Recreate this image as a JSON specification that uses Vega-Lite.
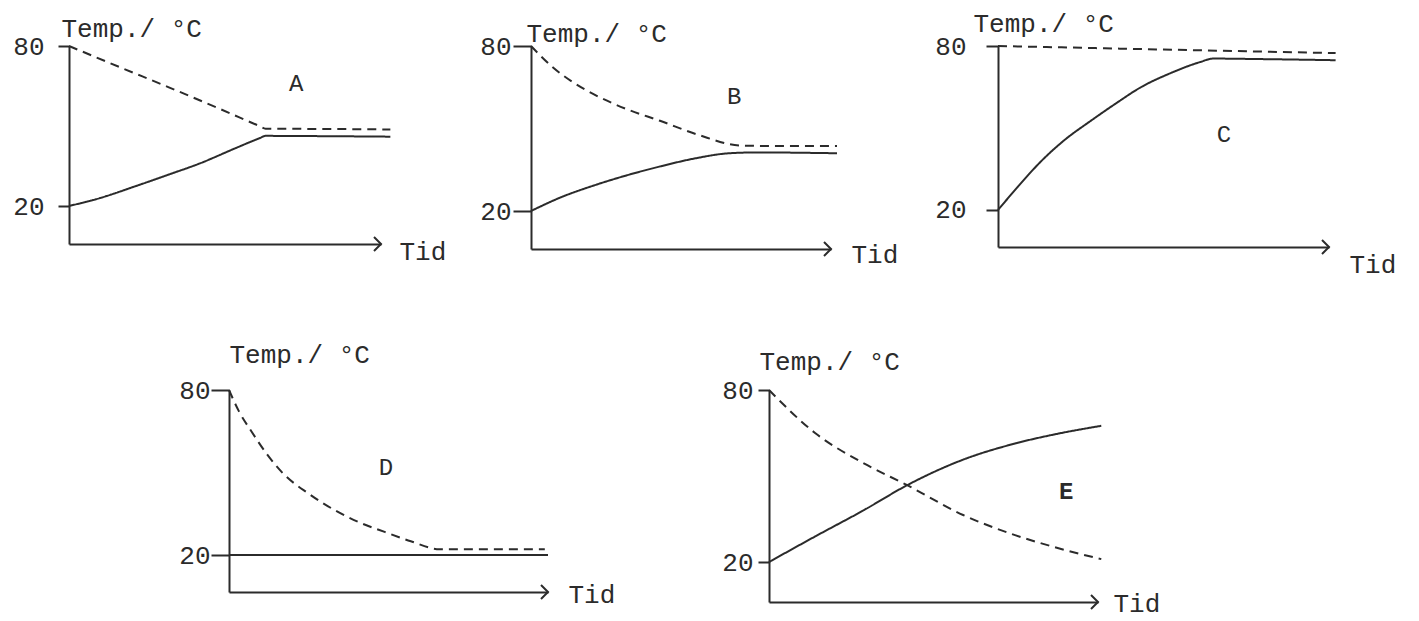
{
  "$schema": "https://vega.github.io/schema/vega-lite/v6.json",
  "background": "white",
  "autosize": {"type": "pad"},
  "padding": {"left": 12, "top": 10, "right": 0, "bottom": 12},
  "datasets": {
    "curves": [
      {"panel": "A", "series": "dashed", "t": 0, "v": 80},
      {"panel": "A", "series": "dashed", "t": 16, "v": 72.2},
      {"panel": "A", "series": "dashed", "t": 32, "v": 64.5},
      {"panel": "A", "series": "dashed", "t": 48, "v": 56.6},
      {"panel": "A", "series": "dashed", "t": 61, "v": 50},
      {"panel": "A", "series": "dashed", "t": 63, "v": 49},
      {"panel": "A", "series": "dashed", "t": 80, "v": 48.9},
      {"panel": "A", "series": "dashed", "t": 103, "v": 48.7},
      {"panel": "A", "series": "solid", "t": 0, "v": 20},
      {"panel": "A", "series": "solid", "t": 10, "v": 23},
      {"panel": "A", "series": "solid", "t": 21, "v": 27.3},
      {"panel": "A", "series": "solid", "t": 32, "v": 31.8},
      {"panel": "A", "series": "solid", "t": 42, "v": 36},
      {"panel": "A", "series": "solid", "t": 53, "v": 41.5},
      {"panel": "A", "series": "solid", "t": 61, "v": 45.4},
      {"panel": "A", "series": "solid", "t": 63, "v": 46.3},
      {"panel": "A", "series": "solid", "t": 80, "v": 46.2},
      {"panel": "A", "series": "solid", "t": 103, "v": 46},
      {"panel": "B", "series": "dashed", "t": 0, "v": 80},
      {"panel": "B", "series": "dashed", "t": 7, "v": 72.5},
      {"panel": "B", "series": "dashed", "t": 14, "v": 66.8},
      {"panel": "B", "series": "dashed", "t": 21, "v": 62.4},
      {"panel": "B", "series": "dashed", "t": 32, "v": 57},
      {"panel": "B", "series": "dashed", "t": 43, "v": 52.8},
      {"panel": "B", "series": "dashed", "t": 56, "v": 47.6},
      {"panel": "B", "series": "dashed", "t": 70, "v": 43.8},
      {"panel": "B", "series": "dashed", "t": 85, "v": 43.6},
      {"panel": "B", "series": "dashed", "t": 102, "v": 43.6},
      {"panel": "B", "series": "solid", "t": 0, "v": 20},
      {"panel": "B", "series": "solid", "t": 10, "v": 25},
      {"panel": "B", "series": "solid", "t": 21, "v": 29.3},
      {"panel": "B", "series": "solid", "t": 32, "v": 33},
      {"panel": "B", "series": "solid", "t": 43, "v": 36.2},
      {"panel": "B", "series": "solid", "t": 55, "v": 39.2},
      {"panel": "B", "series": "solid", "t": 66, "v": 41},
      {"panel": "B", "series": "solid", "t": 75, "v": 41.3},
      {"panel": "B", "series": "solid", "t": 102, "v": 41},
      {"panel": "C", "series": "dashed", "t": 0, "v": 80},
      {"panel": "C", "series": "dashed", "t": 50, "v": 78.7},
      {"panel": "C", "series": "dashed", "t": 102, "v": 77.4},
      {"panel": "C", "series": "solid", "t": 0, "v": 20},
      {"panel": "C", "series": "solid", "t": 6, "v": 28.5},
      {"panel": "C", "series": "solid", "t": 13, "v": 37.8},
      {"panel": "C", "series": "solid", "t": 20, "v": 45.5},
      {"panel": "C", "series": "solid", "t": 28, "v": 52.6},
      {"panel": "C", "series": "solid", "t": 36, "v": 59.3},
      {"panel": "C", "series": "solid", "t": 43, "v": 64.8},
      {"panel": "C", "series": "solid", "t": 52, "v": 70},
      {"panel": "C", "series": "solid", "t": 61, "v": 74.1},
      {"panel": "C", "series": "solid", "t": 65, "v": 75.4},
      {"panel": "C", "series": "solid", "t": 80, "v": 75.2},
      {"panel": "C", "series": "solid", "t": 102, "v": 74.8},
      {"panel": "D", "series": "dashed", "t": 0, "v": 80},
      {"panel": "D", "series": "dashed", "t": 3, "v": 72.5},
      {"panel": "D", "series": "dashed", "t": 7, "v": 65},
      {"panel": "D", "series": "dashed", "t": 12, "v": 56.5},
      {"panel": "D", "series": "dashed", "t": 17, "v": 49.6},
      {"panel": "D", "series": "dashed", "t": 25, "v": 42.3},
      {"panel": "D", "series": "dashed", "t": 33, "v": 36.4},
      {"panel": "D", "series": "dashed", "t": 41, "v": 31.8},
      {"panel": "D", "series": "dashed", "t": 49, "v": 28.3},
      {"panel": "D", "series": "dashed", "t": 57, "v": 25},
      {"panel": "D", "series": "dashed", "t": 66, "v": 22.1},
      {"panel": "D", "series": "dashed", "t": 80, "v": 22.1},
      {"panel": "D", "series": "dashed", "t": 99, "v": 22.1},
      {"panel": "D", "series": "solid", "t": 0, "v": 20},
      {"panel": "D", "series": "solid", "t": 100, "v": 20},
      {"panel": "E", "series": "dashed", "t": 0, "v": 80},
      {"panel": "E", "series": "dashed", "t": 14, "v": 65},
      {"panel": "E", "series": "dashed", "t": 29, "v": 54.3},
      {"panel": "E", "series": "dashed", "t": 42, "v": 46.8},
      {"panel": "E", "series": "dashed", "t": 59, "v": 36.4},
      {"panel": "E", "series": "dashed", "t": 75, "v": 29.3},
      {"panel": "E", "series": "dashed", "t": 88, "v": 24.8},
      {"panel": "E", "series": "dashed", "t": 101, "v": 21},
      {"panel": "E", "series": "solid", "t": 0, "v": 20},
      {"panel": "E", "series": "solid", "t": 14, "v": 28.9},
      {"panel": "E", "series": "solid", "t": 29, "v": 38.2},
      {"panel": "E", "series": "solid", "t": 42, "v": 46.8},
      {"panel": "E", "series": "solid", "t": 59, "v": 55.7},
      {"panel": "E", "series": "solid", "t": 75, "v": 61.4},
      {"panel": "E", "series": "solid", "t": 88, "v": 64.8},
      {"panel": "E", "series": "solid", "t": 101, "v": 67.5}
    ],
    "letters": [
      {"panel": "A", "label": "A", "t": 72.8, "v": 65.7},
      {"panel": "B", "label": "B", "t": 67.7, "v": 61.3},
      {"panel": "C", "label": "C", "t": 68.3, "v": 47.4},
      {"panel": "D", "label": "D", "t": 49.2, "v": 51.8},
      {"panel": "E", "label": "E", "t": 90.3, "v": 44.3}
    ],
    "arrows": [
      {"panel": "A", "t": 100, "v": 5.75},
      {"panel": "B", "t": 100, "v": 6.19},
      {"panel": "C", "t": 100, "v": 6.46},
      {"panel": "D", "t": 100, "v": 6.55},
      {"panel": "E", "t": 100, "v": 6.05}
    ]
  },
  "vconcat": [
    {
      "hconcat": [
        {
          "width": 312, "height": 198,
          "encoding": {
            "x": {"field": "t", "type": "quantitative", "scale": {"domain": [0, 100], "nice": false, "zero": false},
                  "axis": {"title": "Tid", "titleX": 330, "titleY": 7}},
            "y": {"field": "v", "type": "quantitative", "scale": {"domain": [5.75, 80], "nice": false, "zero": false},
                  "axis": {"title": "Temp./ °C", "values": [20, 80], "tickSize": 11, "labelPadding": 14, "titleX": -8, "titleY": -10}}
          },
          "layer": [
            {"data": {"name": "curves"}, "transform": [{"filter": "datum.panel === 'A'"}],
             "mark": {"type": "line", "strokeWidth": 2, "color": "#2b2b2b", "interpolate": "monotone"},
             "encoding": {"detail": {"field": "series", "type": "nominal"},
                          "strokeDash": {"field": "series", "type": "nominal", "scale": {"domain": ["dashed", "solid"], "range": [[9, 6], [1, 0]]}, "legend": null}}},
            {"data": {"name": "letters"}, "transform": [{"filter": "datum.panel === 'A'"}],
             "mark": {"type": "text", "font": "Liberation Mono", "fontSize": 24, "color": "#2b2b2b"},
             "encoding": {"text": {"field": "label"}}},
            {"data": {"name": "arrows"}, "transform": [{"filter": "datum.panel === 'A'"}],
             "mark": {"type": "point", "shape": "M-1,-1L0,0L-1,1", "filled": false, "stroke": "#2b2b2b", "strokeWidth": 2, "size": 196, "opacity": 1}}
          ]
        },
        {
          "hconcat": [
            {
              "width": 300, "height": 203,
              "encoding": {
                "x": {"field": "t", "type": "quantitative", "scale": {"domain": [0, 100], "nice": false, "zero": false},
                      "axis": {"title": "Tid", "titleX": 320, "titleY": 5}},
                "y": {"field": "v", "type": "quantitative", "scale": {"domain": [6.19, 80], "nice": false, "zero": false},
                      "axis": {"title": "Temp./ °C", "values": [20, 80], "tickSize": 18, "labelPadding": 2, "titleX": -5, "titleY": -5}}
              },
              "layer": [
                {"data": {"name": "curves"}, "transform": [{"filter": "datum.panel === 'B'"}],
                 "mark": {"type": "line", "strokeWidth": 2, "color": "#2b2b2b", "interpolate": "monotone"},
                 "encoding": {"detail": {"field": "series", "type": "nominal"},
                              "strokeDash": {"field": "series", "type": "nominal", "scale": {"domain": ["dashed", "solid"], "range": [[9, 6], [1, 0]]}, "legend": null}}},
                {"data": {"name": "letters"}, "transform": [{"filter": "datum.panel === 'B'"}],
                 "mark": {"type": "text", "font": "Liberation Mono", "fontSize": 24, "color": "#2b2b2b"},
                 "encoding": {"text": {"field": "label"}}},
                {"data": {"name": "arrows"}, "transform": [{"filter": "datum.panel === 'B'"}],
                 "mark": {"type": "point", "shape": "M-1,-1L0,0L-1,1", "filled": false, "stroke": "#2b2b2b", "strokeWidth": 2, "size": 196, "opacity": 1}}
              ]
            },
            {
              "width": 331, "height": 201,
              "encoding": {
                "x": {"field": "t", "type": "quantitative", "scale": {"domain": [0, 100], "nice": false, "zero": false},
                      "axis": {"title": "Tid", "titleX": 351, "titleY": 17}},
                "y": {"field": "v", "type": "quantitative", "scale": {"domain": [6.46, 80], "nice": false, "zero": false},
                      "axis": {"title": "Temp./ °C", "values": [20, 80], "tickSize": 12, "labelPadding": 20, "titleX": -25, "titleY": -15}}
              },
              "layer": [
                {"data": {"name": "curves"}, "transform": [{"filter": "datum.panel === 'C'"}],
                 "mark": {"type": "line", "strokeWidth": 2, "color": "#2b2b2b", "interpolate": "monotone"},
                 "encoding": {"detail": {"field": "series", "type": "nominal"},
                              "strokeDash": {"field": "series", "type": "nominal", "scale": {"domain": ["dashed", "solid"], "range": [[9, 6], [1, 0]]}, "legend": null}}},
                {"data": {"name": "letters"}, "transform": [{"filter": "datum.panel === 'C'"}],
                 "mark": {"type": "text", "font": "Liberation Mono", "fontSize": 24, "color": "#2b2b2b"},
                 "encoding": {"text": {"field": "label"}}},
                {"data": {"name": "arrows"}, "transform": [{"filter": "datum.panel === 'C'"}],
                 "mark": {"type": "point", "shape": "M-1,-1L0,0L-1,1", "filled": false, "stroke": "#2b2b2b", "strokeWidth": 2, "size": 196, "opacity": 1}}
              ]
            }
          ],
          "spacing": 167, "bounds": "flush", "align": "each"
        }
      ],
      "spacing": 150, "bounds": "flush", "align": "each"
    },
    {
      "hconcat": [
        {"width": 160, "height": 1, "data": {"values": []}, "mark": "point"},
        {
          "hconcat": [
            {
              "width": 319, "height": 202,
              "encoding": {
                "x": {"field": "t", "type": "quantitative", "scale": {"domain": [0, 100], "nice": false, "zero": false},
                      "axis": {"title": "Tid", "titleX": 339, "titleY": 2}},
                "y": {"field": "v", "type": "quantitative", "scale": {"domain": [6.55, 80], "nice": false, "zero": false},
                      "axis": {"title": "Temp./ °C", "values": [20, 80], "tickSize": 18, "labelPadding": 1, "titleX": 0, "titleY": -28}}
              },
              "layer": [
                {"data": {"name": "curves"}, "transform": [{"filter": "datum.panel === 'D'"}],
                 "mark": {"type": "line", "strokeWidth": 2, "color": "#2b2b2b", "interpolate": "monotone"},
                 "encoding": {"detail": {"field": "series", "type": "nominal"},
                              "strokeDash": {"field": "series", "type": "nominal", "scale": {"domain": ["dashed", "solid"], "range": [[9, 6], [1, 0]]}, "legend": null}}},
                {"data": {"name": "letters"}, "transform": [{"filter": "datum.panel === 'D'"}],
                 "mark": {"type": "text", "font": "Liberation Mono", "fontSize": 24, "color": "#2b2b2b"},
                 "encoding": {"text": {"field": "label"}}},
                {"data": {"name": "arrows"}, "transform": [{"filter": "datum.panel === 'D'"}],
                 "mark": {"type": "point", "shape": "M-1,-1L0,0L-1,1", "filled": false, "stroke": "#2b2b2b", "strokeWidth": 2, "size": 196, "opacity": 1}}
              ]
            },
            {
              "width": 329, "height": 212,
              "encoding": {
                "x": {"field": "t", "type": "quantitative", "scale": {"domain": [0, 100], "nice": false, "zero": false},
                      "axis": {"title": "Tid", "titleX": 344, "titleY": 1}},
                "y": {"field": "v", "type": "quantitative", "scale": {"domain": [6.05, 80], "nice": false, "zero": false},
                      "axis": {"title": "Temp./ °C", "values": [20, 80], "tickSize": 11, "labelPadding": 5, "titleX": -10, "titleY": -21}}
              },
              "layer": [
                {"data": {"name": "curves"}, "transform": [{"filter": "datum.panel === 'E'"}],
                 "mark": {"type": "line", "strokeWidth": 2, "color": "#2b2b2b", "interpolate": "monotone"},
                 "encoding": {"detail": {"field": "series", "type": "nominal"},
                              "strokeDash": {"field": "series", "type": "nominal", "scale": {"domain": ["dashed", "solid"], "range": [[9, 6], [1, 0]]}, "legend": null}}},
                {"data": {"name": "letters"}, "transform": [{"filter": "datum.panel === 'E'"}],
                 "mark": {"type": "text", "font": "Liberation Mono", "fontSize": 24, "fontWeight": "bold", "color": "#2b2b2b"},
                 "encoding": {"text": {"field": "label"}}},
                {"data": {"name": "arrows"}, "transform": [{"filter": "datum.panel === 'E'"}],
                 "mark": {"type": "point", "shape": "M-1,-1L0,0L-1,1", "filled": false, "stroke": "#2b2b2b", "strokeWidth": 2, "size": 196, "opacity": 1}}
              ]
            }
          ],
          "spacing": 221, "bounds": "flush", "align": "each"
        }
      ],
      "spacing": 0, "bounds": "flush", "align": "each"
    }
  ],
  "spacing": 344,
  "bounds": "flush",
  "config": {
    "view": {"stroke": null},
    "axis": {
      "grid": false,
      "domainColor": "#2b2b2b", "domainWidth": 2,
      "tickColor": "#2b2b2b", "tickWidth": 2,
      "labelFont": "Liberation Mono", "labelFontSize": 26, "labelColor": "#2b2b2b",
      "titleFont": "Liberation Mono", "titleFontSize": 26, "titleFontWeight": "normal", "titleColor": "#2b2b2b"
    },
    "axisY": {"titleAngle": 0, "titleAlign": "left", "titleBaseline": "alphabetic", "labelBaseline": "middle", "labelFlush": false, "labelOverlap": false},
    "axisX": {"ticks": false, "labels": false, "titleAngle": 0, "titleAlign": "left", "titleBaseline": "middle"}
  }
}
